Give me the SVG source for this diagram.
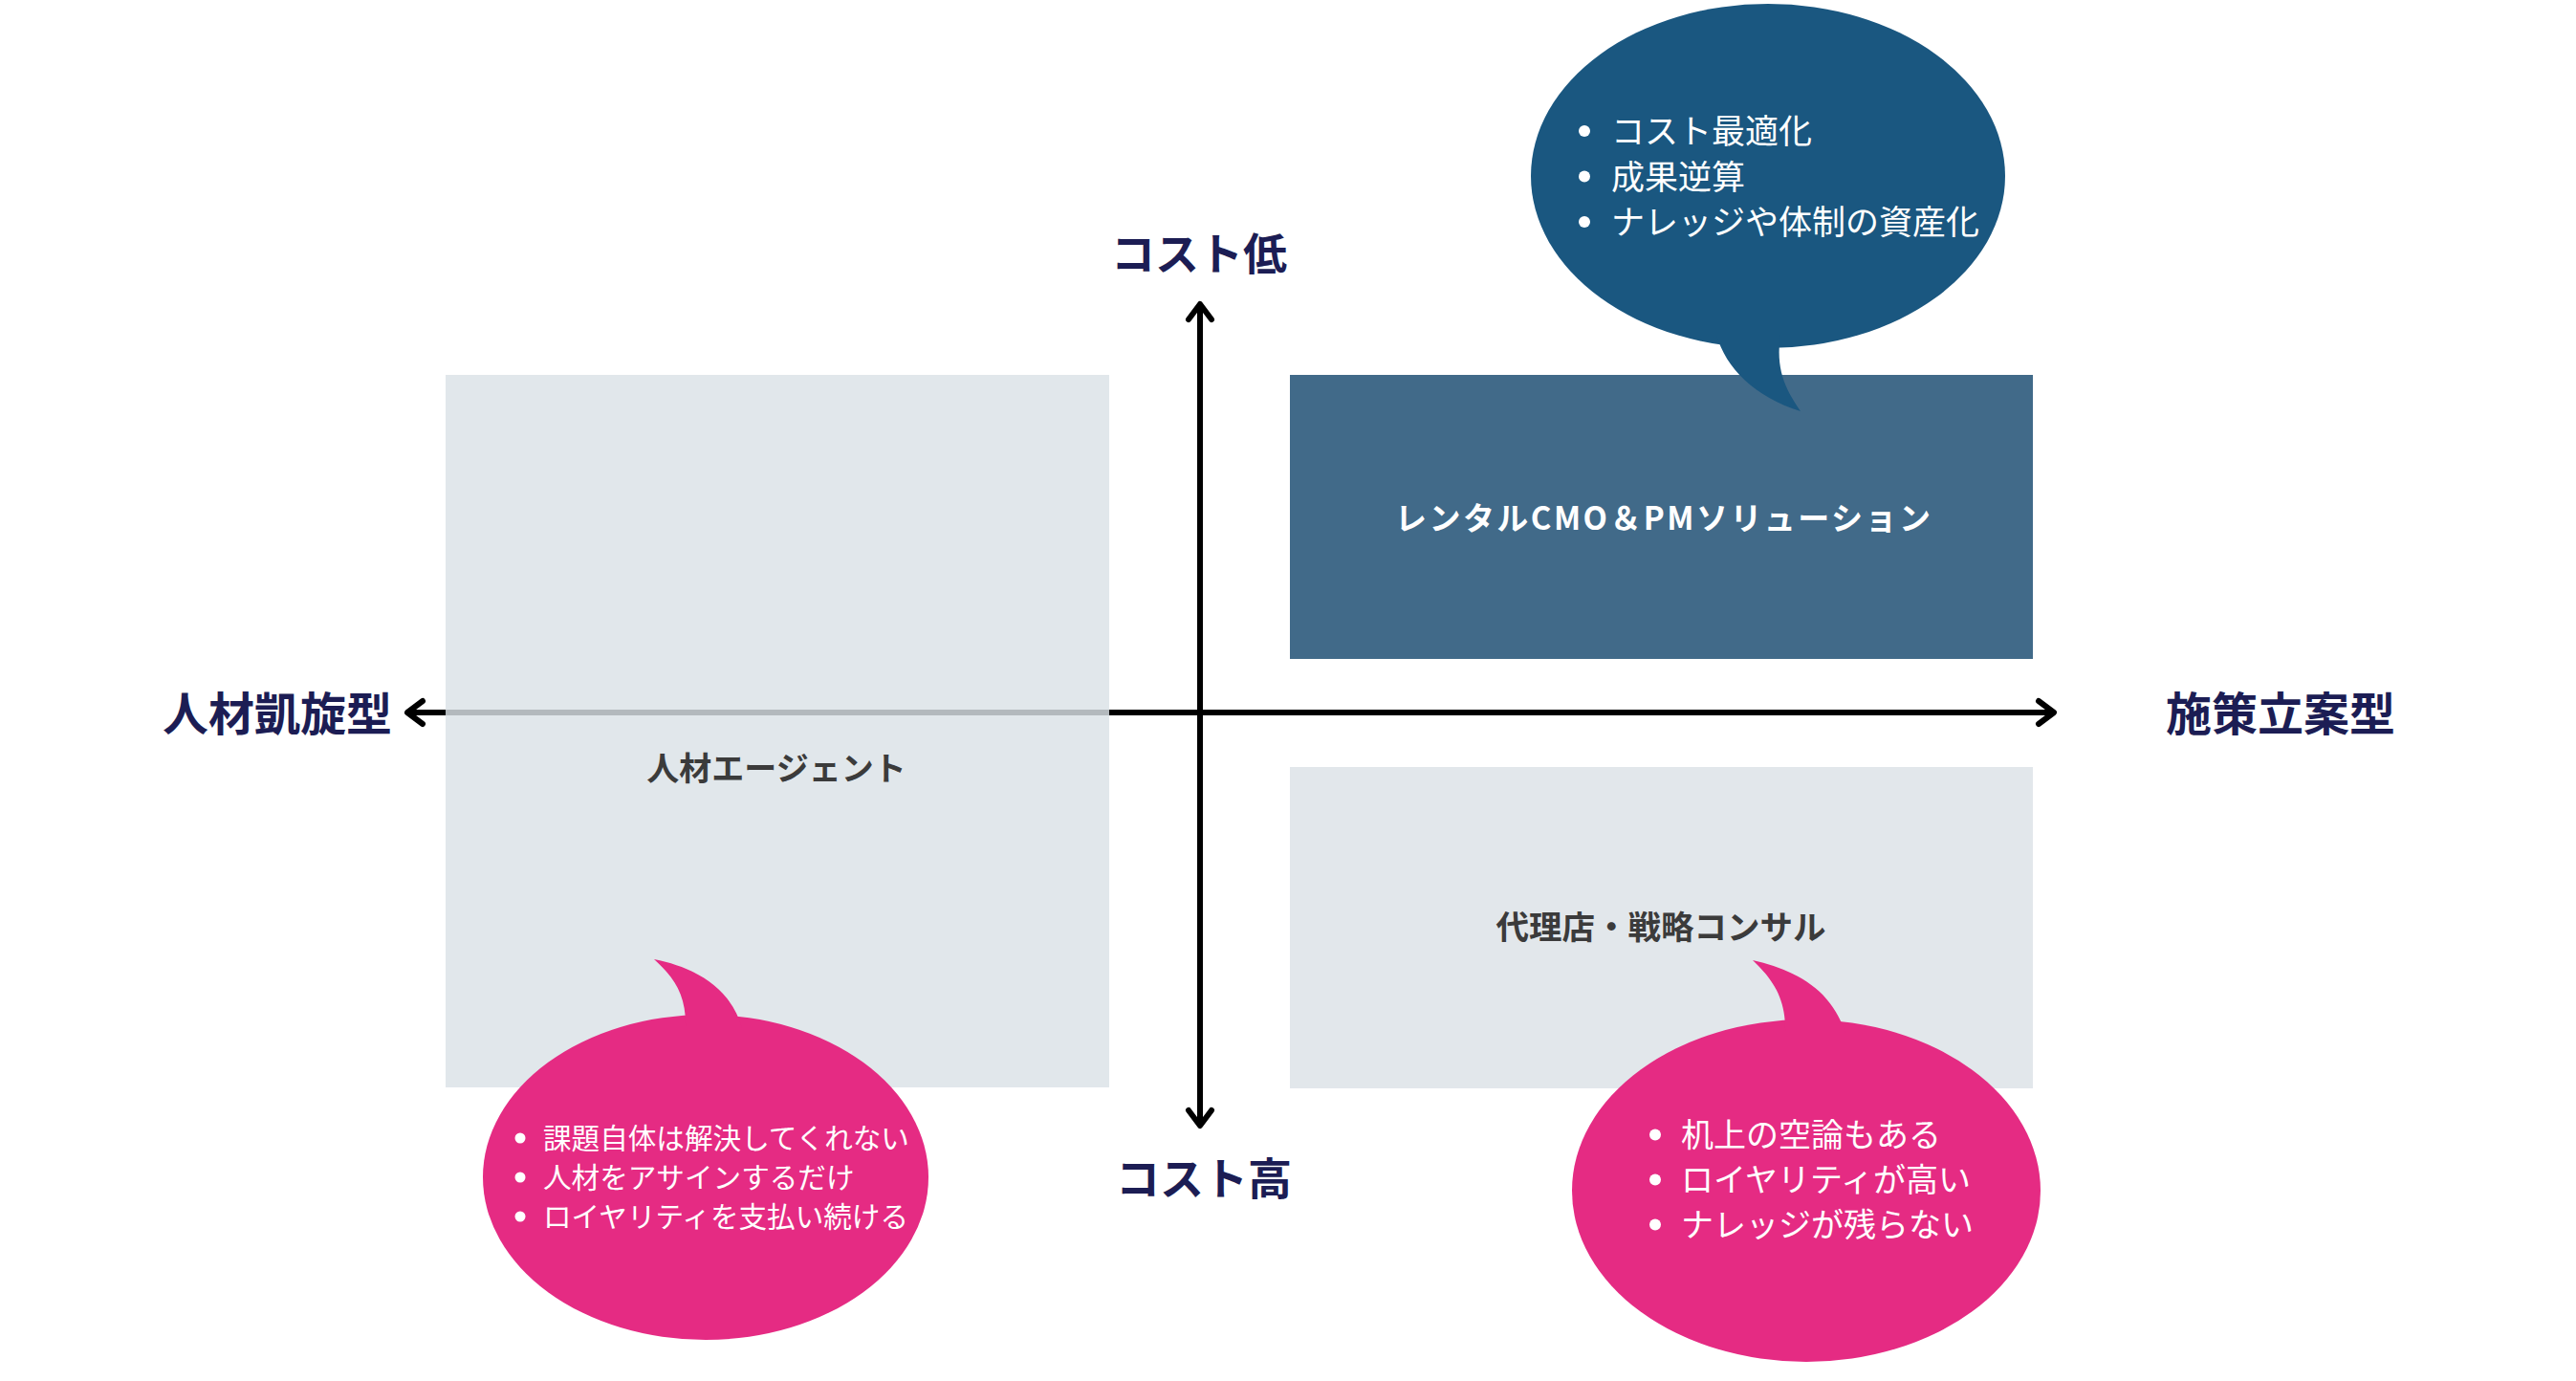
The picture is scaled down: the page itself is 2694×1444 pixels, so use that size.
<svg xmlns="http://www.w3.org/2000/svg" width="2694" height="1444" viewBox="0 0 2694 1444">
<style>
.t{font-family:"Noto Sans CJK JP","Noto Sans CJK SC",sans-serif}
.axis{font-weight:700;fill:#1c1d54}
.lbl{font-weight:700;fill:#3b3b3b;text-anchor:middle}
.bt{fill:#ffffff;font-weight:400}
.dot{fill:#ffffff}
.ax{stroke:#000;stroke-width:6;fill:none}
</style>
<defs>
<marker id="arr" markerUnits="userSpaceOnUse" markerWidth="40" markerHeight="40" viewBox="-25 -20 40 40" refX="0" refY="0" orient="auto-start-reverse">
<path d="M-16,-12 L0,0 L-16,12" fill="none" stroke="#000" stroke-width="6" stroke-linecap="round" stroke-linejoin="round"/>
</marker>
</defs>
<rect width="2694" height="1444" fill="#ffffff"/>
<g id="connectors">
<line class="ax" x1="426" y1="745" x2="2148" y2="745" marker-start="url(#arr)" marker-end="url(#arr)"/>
<line class="ax" x1="1255" y1="318" x2="1255" y2="1177" marker-start="url(#arr)" marker-end="url(#arr)"/>
</g>
<g id="axis-labels">
<text class="t axis" x="1254" y="282" font-size="46" text-anchor="middle">コスト低</text>
<text class="t axis" x="1259" y="1249" font-size="46" text-anchor="middle">コスト高</text>
<text class="t axis" x="290" y="764" font-size="48" text-anchor="middle">人材凱旋型</text>
<text class="t axis" x="2385" y="764" font-size="48" text-anchor="middle">施策立案型</text>
</g>
<g id="node-agent">
<rect x="466" y="392" width="694" height="745" fill="#dbe2e7" fill-opacity="0.82"/>
<text class="t lbl" x="812" y="816" font-size="34">人材エージェント</text>
</g>
<g id="node-rental">
<rect x="1349" y="392" width="777" height="297" fill="#416a89"/>
<text class="t" x="1739" y="554" font-size="33" font-weight="700" fill="#ffffff" text-anchor="middle" textLength="560" lengthAdjust="spacing">レンタルCMO＆PMソリューション</text>
</g>
<g id="node-consul">
<rect x="1349" y="802" width="777" height="336" fill="#e2e7eb"/>
<text class="t lbl" x="1737" y="982" font-size="34.5">代理店・戦略コンサル</text>
</g>
<g id="bubble-top">
<ellipse cx="1849" cy="184" rx="248" ry="180" fill="#1a5780"/>
<path d="M1795,350 C1805,385 1835,415 1883,430 C1866,405 1857,385 1862,350 Z" fill="#1a5780"/>
<circle class="dot" cx="1657" cy="137" r="6"/>
<circle class="dot" cx="1657" cy="184.5" r="6"/>
<circle class="dot" cx="1657" cy="232" r="6"/>
<g class="t bt" font-size="35">
<text x="1685" y="150">コスト最適化</text>
<text x="1685" y="197.5">成果逆算</text>
<text x="1685" y="245">ナレッジや体制の資産化</text>
</g>
</g>
<g id="bubble-left">
<ellipse cx="738" cy="1231" rx="233" ry="170" fill="#e52b83"/>
<path d="M684,1003 C705,1022 718,1040 717,1075 L776,1075 C765,1035 730,1012 684,1003 Z" fill="#e52b83"/>
<circle class="dot" cx="544" cy="1190" r="5.5"/>
<circle class="dot" cx="544" cy="1231" r="5.5"/>
<circle class="dot" cx="544" cy="1272" r="5.5"/>
<g class="t bt" font-size="29.6">
<text x="568" y="1201">課題自体は解決してくれない</text>
<text x="568" y="1242">人材をアサインするだけ</text>
<text x="568" y="1283">ロイヤリティを支払い続ける</text>
</g>
</g>
<g id="bubble-right">
<ellipse cx="1889" cy="1245" rx="245" ry="179" fill="#e52b83"/>
<path d="M1833,1004 C1855,1025 1868,1045 1867,1080 L1930,1080 C1915,1035 1880,1015 1833,1004 Z" fill="#e52b83"/>
<circle class="dot" cx="1731" cy="1186.5" r="6"/>
<circle class="dot" cx="1731" cy="1233.5" r="6"/>
<circle class="dot" cx="1731" cy="1280.5" r="6"/>
<g class="t bt" font-size="34">
<text x="1758" y="1199">机上の空論もある</text>
<text x="1758" y="1246">ロイヤリティが高い</text>
<text x="1758" y="1293">ナレッジが残らない</text>
</g>
</g>
</svg>
